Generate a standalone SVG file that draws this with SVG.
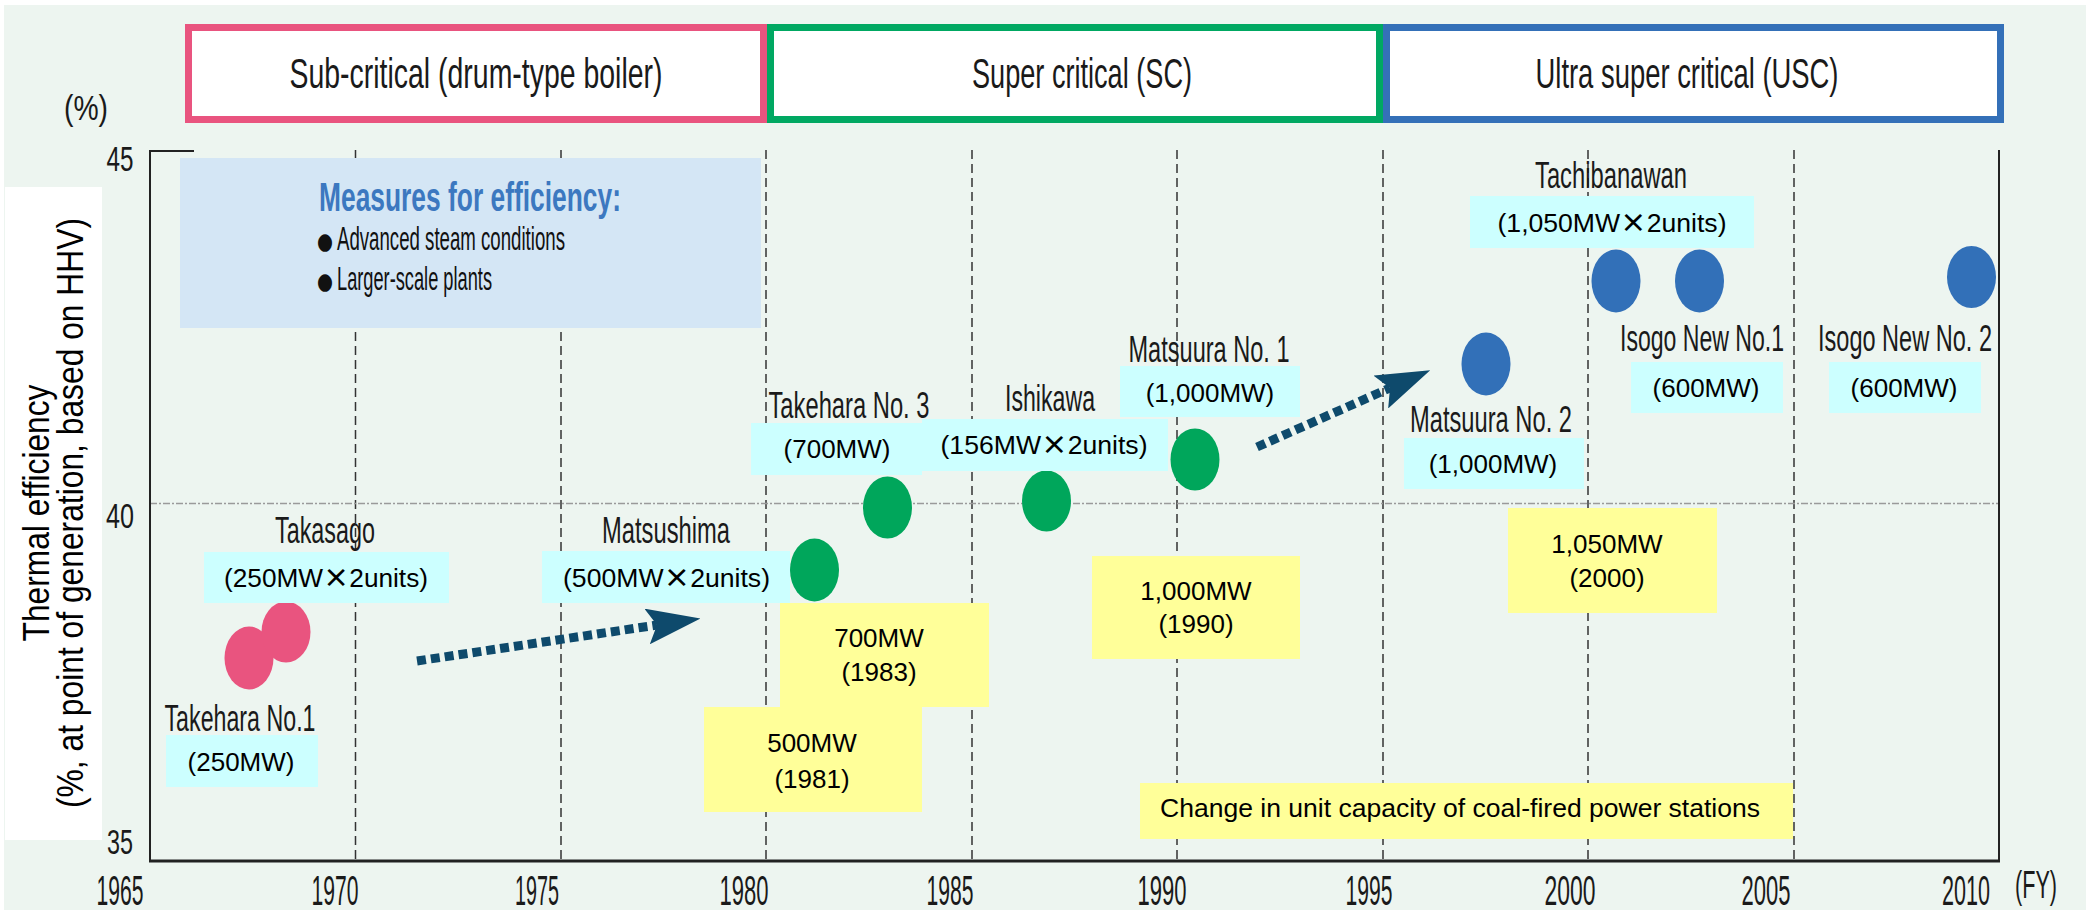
<svg xmlns="http://www.w3.org/2000/svg" width="2094" height="910" viewBox="0 0 2094 910">
<style>
.cond{font-family:"Liberation Sans Narrow","Liberation Sans",Arial,sans-serif}
.name{font-size:36px;fill:#1a1a1a;text-anchor:middle}
.hdr{font-size:43px;fill:#1a1a1a;text-anchor:middle}
.tick{font-size:35px;fill:#1a1a1a;text-anchor:middle}
.year{font-size:42px;fill:#1a1a1a;text-anchor:middle}
.cap{font-family:"Liberation Sans",Arial,sans-serif;font-size:26px;fill:#000;text-anchor:middle}
.x{font-family:"Noto Sans CJK JP","Liberation Sans",sans-serif;font-weight:bold}
.bul{font-family:"DejaVu Sans",sans-serif;font-size:23px;fill:#111}
.cyan{fill:#CCFFFF}
.yel{fill:#FFFF99}
.grid{stroke:#333;stroke-width:1.5;stroke-dasharray:9 5;fill:none}
.pink{fill:#E9547F}
.green{fill:#00A65B}
.blue{fill:#3270B8}
.arrow{stroke:#0E4A6C;stroke-width:9;stroke-dasharray:9 5;fill:none;marker-end:url(#ah)}
</style>
<defs>
<marker id="ah" markerUnits="userSpaceOnUse" viewBox="0 0 54 36" markerWidth="54" markerHeight="36" refX="10" refY="18" orient="auto">
<path d="M0,0 L54,18 L0,36 L10,18 Z" fill="#0E4A6C"/>
</marker>
</defs>
<rect x="0" y="0" width="2094" height="910" fill="#fff"/>
<rect x="4" y="5" width="2082" height="905" fill="#EDF5F0"/>
<rect x="5" y="187" width="97" height="653" fill="#fff"/>

<g id="y-axis-label" font-family="'Liberation Sans',Arial,sans-serif" fill="#000" text-anchor="middle">
<text transform="translate(49,513) rotate(-90)" font-size="37" textLength="257" lengthAdjust="spacingAndGlyphs">Thermal efficiency</text>
<text transform="translate(83,513) rotate(-90)" font-size="36" textLength="590" lengthAdjust="spacingAndGlyphs">(%, at point of generation, based on HHV)</text>
</g>

<g id="header-subcritical">
<rect x="188.5" y="27.5" width="575" height="92" fill="#fff" stroke="#E9547F" stroke-width="7"/>
<text class="cond hdr" x="476" y="88" textLength="373" lengthAdjust="spacingAndGlyphs">Sub-critical (drum-type boiler)</text>
</g>
<g id="header-sc">
<rect x="770.5" y="27.5" width="609" height="92" fill="#fff" stroke="#00A862" stroke-width="7"/>
<text class="cond hdr" x="1082" y="88" textLength="220" lengthAdjust="spacingAndGlyphs">Super critical (SC)</text>
</g>
<g id="header-usc">
<rect x="1386.5" y="27.5" width="614" height="92" fill="#fff" stroke="#3470B8" stroke-width="7"/>
<text class="cond hdr" x="1687" y="88" textLength="303" lengthAdjust="spacingAndGlyphs">Ultra super critical (USC)</text>
</g>

<g id="axes">
<line class="grid" x1="355.5" y1="150" x2="355.5" y2="861"/>
<line class="grid" x1="561" y1="150" x2="561" y2="861"/>
<line class="grid" x1="766" y1="150" x2="766" y2="861"/>
<line class="grid" x1="972" y1="150" x2="972" y2="861"/>
<line class="grid" x1="1177" y1="150" x2="1177" y2="861"/>
<line class="grid" x1="1383" y1="150" x2="1383" y2="861"/>
<line class="grid" x1="1588" y1="150" x2="1588" y2="861"/>
<line class="grid" x1="1794" y1="150" x2="1794" y2="861"/>
<line x1="150" y1="503.5" x2="1999" y2="503.5" stroke="#9a9a9a" stroke-width="1.5" stroke-dasharray="7 2 2 2"/>
<line x1="150" y1="150" x2="150" y2="861" stroke="#222" stroke-width="2"/>
<line x1="149" y1="151" x2="194" y2="151" stroke="#222" stroke-width="2"/>
<line x1="1999" y1="150" x2="1999" y2="861" stroke="#222" stroke-width="2"/>
<line x1="149" y1="861" x2="2000" y2="861" stroke="#222" stroke-width="3"/>
<text class="cond tick" x="86" y="120" textLength="44" lengthAdjust="spacingAndGlyphs">(%)</text>
<text class="cond tick" x="120" y="171" textLength="27" lengthAdjust="spacingAndGlyphs">45</text>
<text class="cond tick" x="120" y="528" textLength="28" lengthAdjust="spacingAndGlyphs">40</text>
<text class="cond tick" x="120" y="854" textLength="26" lengthAdjust="spacingAndGlyphs">35</text>
<text class="cond year" x="120" y="905" textLength="47" lengthAdjust="spacingAndGlyphs">1965</text>
<text class="cond year" x="335" y="905" textLength="47" lengthAdjust="spacingAndGlyphs">1970</text>
<text class="cond year" x="537" y="905" textLength="44" lengthAdjust="spacingAndGlyphs">1975</text>
<text class="cond year" x="744" y="905" textLength="49" lengthAdjust="spacingAndGlyphs">1980</text>
<text class="cond year" x="950" y="905" textLength="47" lengthAdjust="spacingAndGlyphs">1985</text>
<text class="cond year" x="1162" y="905" textLength="49" lengthAdjust="spacingAndGlyphs">1990</text>
<text class="cond year" x="1369" y="905" textLength="47" lengthAdjust="spacingAndGlyphs">1995</text>
<text class="cond year" x="1570" y="905" textLength="51" lengthAdjust="spacingAndGlyphs">2000</text>
<text class="cond year" x="1766" y="905" textLength="49" lengthAdjust="spacingAndGlyphs">2005</text>
<text class="cond year" x="1966" y="905" textLength="48" lengthAdjust="spacingAndGlyphs">2010</text>
<text class="cond" x="2036" y="898" font-size="38" fill="#1a1a1a" text-anchor="middle" textLength="42" lengthAdjust="spacingAndGlyphs">(FY)</text>
</g>

<g id="measures">
<rect x="180" y="158" width="581" height="170" fill="#D4E6F5"/>
<text class="cond" x="319" y="211" font-size="40" font-weight="bold" fill="#3C78C0" textLength="302" lengthAdjust="spacingAndGlyphs">Measures for efficiency:</text>
<text class="bul" x="317" y="249" textLength="16" lengthAdjust="spacingAndGlyphs">●</text>
<text class="cond" x="337" y="250" font-size="33" fill="#111" textLength="228" lengthAdjust="spacingAndGlyphs">Advanced steam conditions</text>
<text class="bul" x="317" y="289" textLength="16" lengthAdjust="spacingAndGlyphs">●</text>
<text class="cond" x="337" y="290" font-size="33" fill="#111" textLength="155" lengthAdjust="spacingAndGlyphs">Larger-scale plants</text>
</g>

<g id="capacity-legend">
<rect class="yel" x="1140" y="783" width="653" height="56"/>
<text class="cap" x="1460" y="817" textLength="600" lengthAdjust="spacingAndGlyphs">Change in unit capacity of coal-fired power stations</text>
</g>
<g id="cap-1981">
<rect class="yel" x="704" y="707" width="218" height="105"/>
<text class="cap" x="812" y="752">500MW</text>
<text class="cap" x="812" y="788">(1981)</text>
</g>
<g id="cap-1983">
<rect class="yel" x="780" y="603" width="209" height="104"/>
<text class="cap" x="879" y="647">700MW</text>
<text class="cap" x="879" y="681">(1983)</text>
</g>
<g id="cap-1990">
<rect class="yel" x="1092" y="556" width="208" height="103"/>
<text class="cap" x="1196" y="600">1,000MW</text>
<text class="cap" x="1196" y="633">(1990)</text>
</g>
<g id="cap-2000">
<rect class="yel" x="1508" y="508" width="209" height="105"/>
<text class="cap" x="1607" y="553">1,050MW</text>
<text class="cap" x="1607" y="587">(2000)</text>
</g>

<g id="connectors">
<line class="arrow" x1="417" y1="661" x2="657" y2="625"/>
<line class="arrow" x1="1257" y1="447" x2="1390" y2="388"/>
</g>

<g id="takehara-1">
<ellipse class="pink" cx="249" cy="658" rx="24.5" ry="31.5"/>
<text class="cond name" x="240" y="731" textLength="151" lengthAdjust="spacingAndGlyphs">Takehara No.1</text>
<rect class="cyan" x="166" y="735" width="152" height="52"/>
<text class="cap" x="241" y="771">(250MW)</text>
</g>
<g id="takasago">
<ellipse class="pink" cx="286" cy="632" rx="24.5" ry="30.5"/>
<text class="cond name" x="325" y="543" textLength="100" lengthAdjust="spacingAndGlyphs">Takasago</text>
<rect class="cyan" x="204" y="552" width="245" height="51"/>
<text class="cap" x="326" y="587" textLength="204" lengthAdjust="spacingAndGlyphs">(250MW<tspan class="x">×</tspan>2units)</text>
</g>
<g id="matsushima">
<text class="cond name" x="666" y="543" textLength="128" lengthAdjust="spacingAndGlyphs">Matsushima</text>
<rect class="cyan" x="542" y="551" width="248" height="52"/>
<text class="cap" x="666.5" y="587" textLength="207" lengthAdjust="spacingAndGlyphs">(500MW<tspan class="x">×</tspan>2units)</text>
<ellipse class="green" cx="814.5" cy="570" rx="24.5" ry="31.5"/>
</g>
<g id="takehara-3">
<ellipse class="green" cx="887.5" cy="507.5" rx="24.5" ry="31"/>
<text class="cond name" x="849" y="418" textLength="161" lengthAdjust="spacingAndGlyphs">Takehara No. 3</text>
<rect class="cyan" x="751" y="423" width="171" height="52"/>
<text class="cap" x="837" y="458">(700MW)</text>
</g>
<g id="ishikawa">
<ellipse class="green" cx="1046.5" cy="501" rx="24.5" ry="30.5"/>
<text class="cond name" x="1050" y="411" textLength="90" lengthAdjust="spacingAndGlyphs">Ishikawa</text>
<rect class="cyan" x="922" y="419" width="246" height="52"/>
<text class="cap" x="1044" y="454" textLength="207" lengthAdjust="spacingAndGlyphs">(156MW<tspan class="x">×</tspan>2units)</text>
</g>
<g id="matsuura-1">
<ellipse class="green" cx="1195" cy="459.5" rx="24.5" ry="31"/>
<text class="cond name" x="1209" y="362" textLength="161" lengthAdjust="spacingAndGlyphs">Matsuura No. 1</text>
<rect class="cyan" x="1120" y="366" width="180" height="51"/>
<text class="cap" x="1210" y="402">(1,000MW)</text>
</g>
<g id="matsuura-2">
<ellipse class="blue" cx="1486" cy="364" rx="24.5" ry="31.5"/>
<text class="cond name" x="1491" y="432" textLength="162" lengthAdjust="spacingAndGlyphs">Matsuura No. 2</text>
<rect class="cyan" x="1404" y="438" width="180" height="51"/>
<text class="cap" x="1493" y="473">(1,000MW)</text>
</g>
<g id="tachibanawan">
<text class="cond name" x="1611" y="188" textLength="152" lengthAdjust="spacingAndGlyphs">Tachibanawan</text>
<rect class="cyan" x="1470" y="196" width="284" height="52"/>
<text class="cap" x="1612" y="232" textLength="229" lengthAdjust="spacingAndGlyphs">(1,050MW<tspan class="x">×</tspan>2units)</text>
<ellipse class="blue" cx="1616" cy="281" rx="24.5" ry="31.5"/>
<ellipse class="blue" cx="1699.5" cy="281" rx="24.5" ry="31.5"/>
</g>
<g id="isogo-1">
<text class="cond name" x="1702" y="351" textLength="164" lengthAdjust="spacingAndGlyphs">Isogo New No.1</text>
<rect class="cyan" x="1631" y="362" width="152" height="51"/>
<text class="cap" x="1706" y="397">(600MW)</text>
</g>
<g id="isogo-2">
<ellipse class="blue" cx="1971.5" cy="277" rx="24.5" ry="31"/>
<text class="cond name" x="1905" y="351" textLength="174" lengthAdjust="spacingAndGlyphs">Isogo New No. 2</text>
<rect class="cyan" x="1829" y="362" width="152" height="51"/>
<text class="cap" x="1904" y="397">(600MW)</text>
</g>
</svg>
